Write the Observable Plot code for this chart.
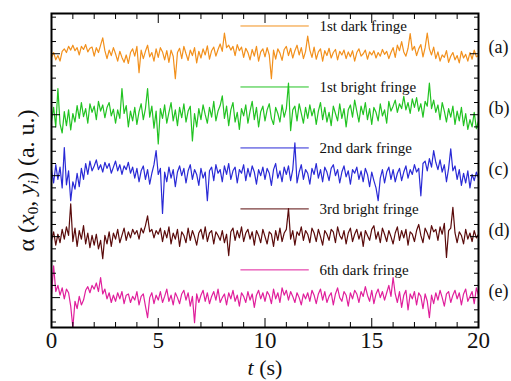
<!DOCTYPE html>
<html><head><meta charset="utf-8">
<script src="https://cdn.jsdelivr.net/npm/d3@7"></script>
<script src="https://cdn.jsdelivr.net/npm/@observablehq/plot@0.6"></script>
<style>
body{margin:0;background:#fff}
#chart svg text{font-family:"Liberation Serif","Times New Roman",serif;}
</style>
</head><body><div id="chart"></div>
<script>
// ---- data ----
const seriesNames = ["1st dark fringe", "1st bright fringe", "2nd dark fringe", "3rd bright fringe", "6th dark fringe"];
const panelTags = ["(a)", "(b)", "(c)", "(d)", "(e)"];
const offsets = [5, 4, 3, 2, 1];          // vertical offset of each trace (a. u.)
const timeStep = 0.1;                      // s between samples
// deviations from each offset, in 0.01 a. u.
const darkFringe1 = [
  -6, 2, -10, -3, -12, 4, 8, 2, 12, 6,
  14, 5, 10, -2, 12, 7, 15, 3, 9, 11,
  -4, 10, 2, 14, 26, 5, -8, 6, -3, 10,
  0, -12, 4, -6, -14, -2, -16, 2, 8, -4,
  12, -31, 6, -8, 4, 14, -5, 2, -12, 8,
  -6, 10, 3, -10, 5, -14, 6, -4, -41, 2,
  9, -8, 12, 0, -11, 6, -3, 10, -15, 4,
  -7, 8, -2, 13, -9, 5, 11, -4, 7, 16,
  4, 34, 10, 14, 6, 12, -3, 15, 5, 11,
  -6, 9, 2, -10, 7, -4, 12, -12, 3, 8,
  -5, 10, -2, -41, 6, -9, 8, 1, -11, 7,
  12, -3, 9, -7, 5, 14, -2, 10, -8, 4,
  29, 6, -6, 11, -9, 3, 8, -12, 5, -3,
  9, -7, 2, 7, -10, 4, -2, 6, -8, 3,
  -5, 5, -12, 2, 8, -4, 0, 6, -9, 3,
  -2, 5, -7, 2, -4, 7, -1, 4, -8, 2,
  10, -6, 14, 5, 20, 3, -4, 9, 33, 6,
  12, -3, 8, 15, -5, 10, 34, 8, -2, 11,
  -8, 3, -12, -2, -6, 5, -14, -4, 2, -10,
  -3, -15, 4, -7, -1, -12, 2, -9, 6, -5,
  -3];
const brightFringe1 = [
  -10, 12, -20, 43, -15, -30, 5, -18, 8, -25,
  2, -12, 15, -6, 20, -3, 10, -14, 18, 4,
  14, -8, 22, 6, 16, -5, 12, 20, -2, 9,
  -14, 8, -6, 43, 2, 15, -20, 6, -10, 12,
  -16, 5, 18, -8, 10, 43, -4, 14, -22, 6,
  -48, 10, -6, 16, -14, 4, 20, -10, 8, -18,
  12, -5, 18, -12, 6, 14, -43, 2, -20, 10,
  -8, 16, 0, -14, 12, -4, 22, -10, 6, 15,
  31, -6, 14, -18, 8, 20, -12, 4, -24, 10,
  -2, 16, -14, 6, 22, -8, 12, -20, 5, 14,
  -10, 8, 18, -6, -16, 12, 2, -12, 16, -4,
  10, 52, -26, 8, 14, -10, 18, 2, -14, 12,
  -6, 16, -2, 10, -16, 6, 20, -8, 12, -12,
  4, -18, 14, 2, -10, 18, -6, 10, -20, 8,
  16, -4, 24, 6, -12, 14, 0, 20, -8, 10,
  -16, 12, 4, -10, 18, -2, 8, -14, 22, 6,
  14, 24, 4, 18, 10, 30, 8, 20, 2, 26,
  12, 28, 6, 18, -4, 22, 14, 52, 10, 24,
  4, 16, -8, 20, 6, -12, 10, -4, 14, -16,
  6, -10, 12, -18, 2, -24, -8, -20, 4, -23,
  -10];
const darkFringe2 = [
  10, -12, 18, -6, 14, -20, 46, -15, 8, -41,
  -10, -22, 4, -18, 12, -6, 20, 2, 24, 8,
  16, 26, 10, 18, 6, 22, 12, 20, 4, 14,
  24, 8, 18, 2, 16, 10, 22, 4, 14, -4,
  12, -10, 8, 16, -6, 10, -14, 4, 18, 41,
  2, 12, -62, 6, -10, 14, -4, 10, -18, 6,
  16, 0, 12, -12, 8, 18, -6, 10, 2, -16,
  12, -4, 6, -41, 8, 14, -8, 18, 4, 10,
  -10, 16, 2, 20, -6, 8, 14, -12, 10, 4,
  18, -8, 12, -2, 16, 6, -14, 10, 0, 14,
  -6, 12, 4, -16, 10, 20, -4, 8, -10, 14,
  2, 16, -8, 10, 54, -12, 6, 18, -6, 10,
  4, -14, 12, 2, 20, -4, 10, -10, 14, 6,
  -8, 12, 18, 0, 10, -12, 6, 16, -2, 8,
  -14, 10, 4, 14, -6, 8, -10, 12, 2, -18,
  6, -8, -20, -41, -4, 10, -12, 6, 14, -6,
  10, -10, 4, 12, -8, 6, 16, -4, 10, 2,
  18, 6, 12, -33, 20, 24, 8, 28, 14, 41,
  22, 10, 26, 6, 18, -10, 12, 44, 8, 16,
  -6, 10, -16, 4, -12, 8, -20, 2, -8, 6,
  -4];
const brightFringe3 = [
  -6, 8, -14, 4, -10, 12, -4, 16, 2, 54,
  -8, 14, -16, 10, -4, 18, -12, 6, -18, 2,
  -14, 4, -20, -6, -36, 2, -12, 8, -16, 6,
  -4, 12, -10, 2, 14, -6, 8, -2, 12, 4,
  10, -4, 14, 6, 18, 34, 8, 12, -2, 10,
  4, 14, -8, 10, -2, 16, -12, 6, -4, 12,
  -16, 8, 2, -10, 14, -6, 10, 0, -14, 6,
  12, -4, 16, -8, 6, 10, -12, 8, 2, -6,
  10, -10, 4, -31, 8, 14, -6, 10, -2, 16,
  -8, 6, 12, -4, 8, -14, 10, 2, -10, 12,
  0, -12, 8, 4, -16, 10, -6, 14, -8, 6,
  12, 46, -4, 10, -14, 8, 2, 16, -6, 10,
  4, -10, 14, 6, -8, 12, 0, -14, 10, 4,
  -6, 12, 8, -10, 16, 2, -4, 10, -12, 6,
  14, -8, 4, 12, -4, 8, -16, 10, 2, -6,
  12, 18, -4, 8, -10, 14, 4, -8, 10, 0,
  -12, 6, 16, -6, 10, -2, 12, -14, 8, 4,
  -8, 10, 20, 2, -10, 14, 6, -4, 18, 8,
  12, -6, 16, 4, 22, -34, 10, 14, 48, 6,
  -10, 8, 2, -12, 12, -4, 6, -8, 10, -2,
  4];
const darkFringe6 = [
  6, 52, 10, 20, 4, 16, -2, 14, 8, -14,
  -49, -6, -18, 2, -12, -4, 12, 18, 8, 20,
  14, 24, 10, 33, 6, 14, -2, 8, -8, 4,
  -6, 8, -2, 10, -10, 4, 6, -8, 2, -4,
  10, -12, 2, 6, -14, -33, 0, 8, -10, 4,
  -4, 10, -8, 2, 14, -6, 4, -12, 8, 0,
  -10, 6, 12, -4, 8, -14, 2, -41, 6, -8,
  4, 12, -6, 8, -10, 2, 10, -4, 14, -8,
  0, 6, -12, 8, -2, 12, -6, 4, -14, 8,
  2, -8, 10, -4, 6, -16, 4, 12, -2, 8,
  -6, 10, 4, -10, 14, -2, 8, -8, 16, 4,
  12, -4, 10, 2, -8, 8, 0, -12, 6, -2,
  8, -6, 12, 4, -10, 6, 14, -4, 10, -8,
  2, 8, -12, 6, 16, 0, -6, 10, 4, -14,
  8, -2, 12, 6, -8, 10, 2, 18, 4, -6,
  12, -10, 6, 14, 0, 10, -4, 8, 20, 2,
  33, 6, -8, 10, -16, 4, 12, -20, 6, -2,
  10, -12, 8, 2, -18, 6, -6, -33, 4, -10,
  8, -4, 12, 0, -14, 6, 10, -8, 4, 12,
  -2, 8, -12, 6, 14, -6, 2, 10, -10, 16,
  4];
const xMajorTicks = [0, 5, 10, 15, 20];
const xMinorTicks = [1, 2, 3, 4, 6, 7, 8, 9, 11, 12, 13, 14, 16, 17, 18, 19];
const yMajorTicks = [1, 2, 3, 4, 5];
const yMinorTicks = [0.6, 0.8, 1.2, 1.4, 1.6, 1.8, 2.2, 2.4, 2.6, 2.8, 3.2, 3.4, 3.6, 3.8, 4.2, 4.4, 4.6, 4.8, 5.2, 5.4, 5.6];

// ---- styling / layout (not data) ----
const colors = ["#f2901c", "#22c322", "#2a2ad6", "#5a0b0b", "#e01f9c"];
const legendLineX = [8.85, 12.05];
const legendTextX = 12.55;
const legendRise = 0.455;
const tagRise = 0.1;
const serif = "Liberation Serif";
const xLabelText = "t (s)";
const yLabelText = "α (x0, yi) (a. u.)";

const allSeries = [darkFringe1, brightFringe1, darkFringe2, brightFringe3, darkFringe6];

const marks = [];
allSeries.forEach((vals, k) => {
  const rows = vals.map((v, i) => ({t: i * timeStep, y: offsets[k] + v / 100}));
  marks.push(Plot.line(rows, {x: "t", y: "y", stroke: colors[k], strokeWidth: 1.2}));
});
allSeries.forEach((vals, k) => {
  const row = [{name: seriesNames[k], tag: panelTags[k], off: offsets[k]}];
  marks.push(Plot.link(row, {x1: () => legendLineX[0], x2: () => legendLineX[1], y1: d => d.off + legendRise, y2: d => d.off + legendRise, stroke: colors[k], strokeWidth: 1}));
  marks.push(Plot.text(row, {x: legendTextX, y: d => d.off + legendRise, text: "name", textAnchor: "start", fontSize: 15, fill: "#111"}));
  marks.push(Plot.text(row, {x: 20, y: d => d.off + tagRise, dx: 10, text: "tag", textAnchor: "start", fontSize: 18, fill: "#111"}));
});

const noText = () => "";
marks.push(
  Plot.axisX({anchor: "bottom", ticks: xMajorTicks, tickSize: -9, tickFormat: noText, label: null}),
  Plot.axisX({anchor: "bottom", ticks: xMinorTicks, tickSize: -5, tickFormat: noText, label: null}),
  Plot.axisX({anchor: "top", ticks: xMajorTicks, tickSize: -9, tickFormat: noText, label: null}),
  Plot.axisX({anchor: "top", ticks: xMinorTicks, tickSize: -5, tickFormat: noText, label: null}),
  Plot.axisX({anchor: "bottom", ticks: xMajorTicks, tickSize: 0, tickPadding: 4, tickFormat: d => String(d), label: null, fontSize: 23, fill: "#111"}),
  Plot.axisY({anchor: "left", ticks: yMajorTicks, tickSize: -9, tickFormat: noText, label: null}),
  Plot.axisY({anchor: "left", ticks: yMinorTicks, tickSize: -5, tickFormat: noText, label: null}),
  Plot.axisY({anchor: "right", ticks: yMajorTicks, tickSize: -9, tickFormat: noText, label: null}),
  Plot.axisY({anchor: "right", ticks: yMinorTicks, tickSize: -5, tickFormat: noText, label: null}),
  Plot.frame({stroke: "#000", strokeWidth: 2}),
  Plot.text([xLabelText], {frameAnchor: "bottom", dy: 47, text: d => d, fontSize: 22, fill: "#111", className: "xlab"}),
  Plot.text([yLabelText], {frameAnchor: "left", dx: -25, dy: 10, rotate: -90, text: d => d, fontSize: 24, fill: "#111", className: "ylab"})
);

const chart = Plot.plot({
  width: 511,
  height: 381,
  marginLeft: 51,
  marginRight: 33,
  marginTop: 13,
  marginBottom: 54,
  x: {domain: [0, 20]},
  y: {domain: [0.51, 5.66]},
  style: {fontFamily: serif, background: "#fff", overflow: "visible"},
  marks
});
document.getElementById("chart").appendChild(chart);

// rich text (italics & subscripts) for the axis titles
function richen(sel, parts) {
  const t = d3.select(chart).select(sel + " text");
  if (t.empty()) return;
  t.text(null).attr("text-anchor", "middle");
  parts.forEach(p => {
    const s = t.append("tspan").text(p.s);
    if (p.i) s.attr("font-style", "italic");
    if (p.sub) s.attr("baseline-shift", "-25%").attr("font-size", p.sub);
  });
}
richen(".xlab", [{s: "t", i: true}, {s: " (s)"}]);
richen(".ylab", [
  {s: "α ("}, {s: "x", i: true}, {s: "0", sub: 15}, {s: ", "},
  {s: "y", i: true}, {s: "i", i: true, sub: 15}, {s: ") (a. u.)"}
]);
</script>
</body></html>
